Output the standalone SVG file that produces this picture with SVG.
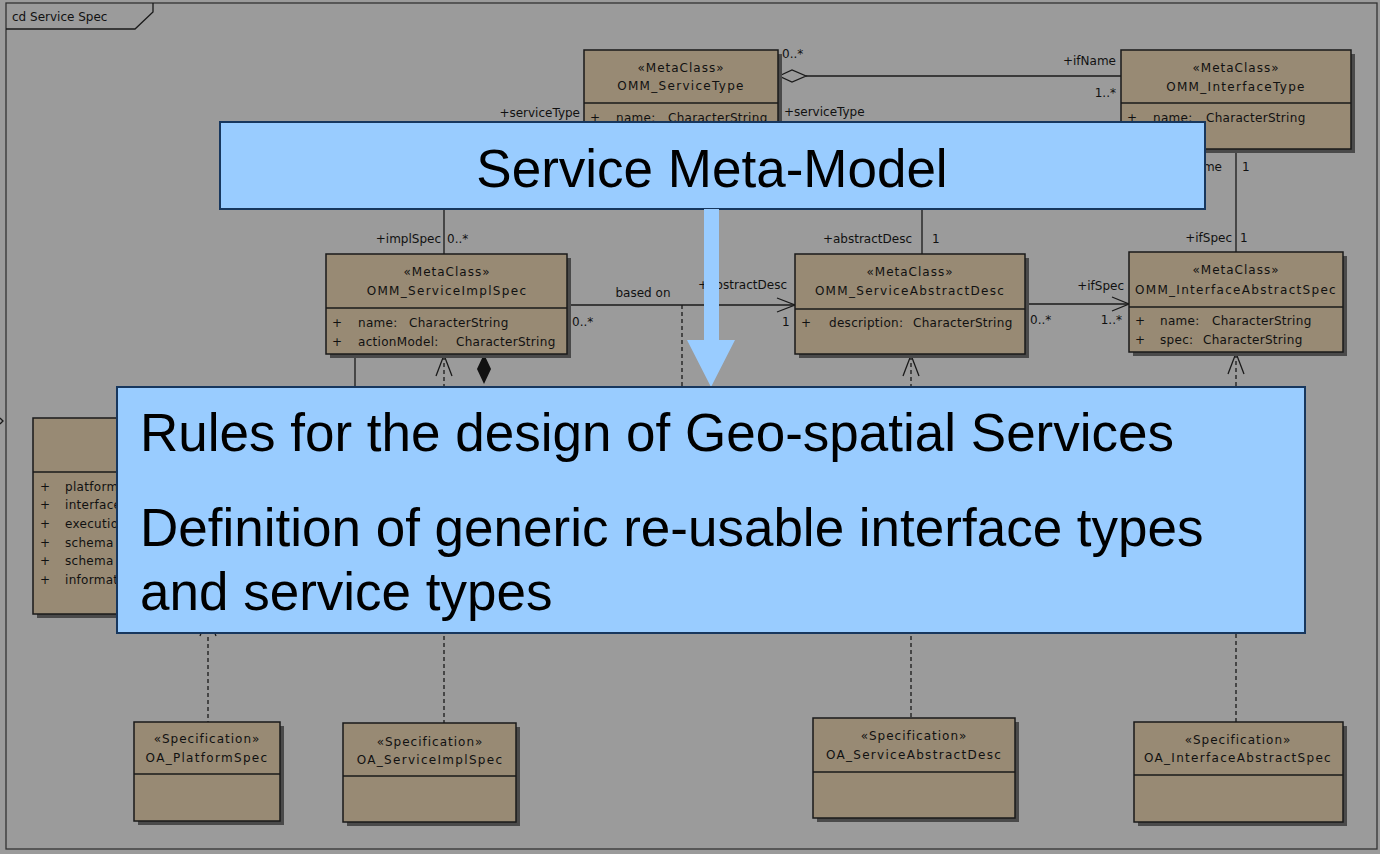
<svg xmlns="http://www.w3.org/2000/svg" width="1380" height="854" viewBox="0 0 1380 854">
<style>
.cls{fill:#988a74;stroke:#1a1a1a;stroke-width:1.5}
.sh{fill:#4a4a4a}
.sep{stroke:#1a1a1a;stroke-width:1.5}
.t{font-family:"DejaVu Sans",Verdana,sans-serif;font-size:12px;fill:#111}
.st{letter-spacing:1px;text-anchor:middle}
.nm{letter-spacing:1.3px;text-anchor:middle}
.at{letter-spacing:0.3px}
.r{text-anchor:end}
.ln{stroke:#1a1a1a;stroke-width:1.3;fill:none}
.dash{stroke-dasharray:4 3}
.co{fill:#99ccff;stroke:#17375e;stroke-width:2}
.big{font-family:"Liberation Sans",Arial,sans-serif;font-size:53px;fill:#000}
</style>
<rect x="0" y="0" width="1380" height="854" fill="#9b9b9b"/>
<g id="frame">
<rect x="6" y="3" width="1371" height="846" fill="none" stroke="#333" stroke-width="1.3"/>
<polyline points="6,29 135,29 153,12 153,3" class="ln"/>
<text x="12" y="21" class="t">cd Service Spec</text>
<polyline points="0,418 3,421 0,424" class="ln"/>
</g>
<g id="connectors">
<line x1="806" y1="76" x2="1121" y2="76" class="ln"/>
<polygon points="779,76 792,70 806,76 792,82" fill="#9b9b9b" stroke="#1a1a1a" stroke-width="1.3"/>
<text x="782" y="58" class="t">0..*</text>
<text x="1116" y="65" class="t r">+ifName</text>
<text x="1116" y="97" class="t r">1..*</text>
<polyline points="584,128 444,128 444,254" class="ln"/>
<text x="580" y="117" class="t r">+serviceType</text>
<text x="441" y="243" class="t r">+implSpec</text>
<text x="447" y="243" class="t">0..*</text>
<polyline points="778,128 922,128 922,254" class="ln"/>
<text x="784" y="116" class="t">+serviceType</text>
<text x="912" y="243" class="t r">+abstractDesc</text>
<text x="932" y="243" class="t">1</text>
<line x1="1236" y1="149" x2="1236" y2="252" class="ln"/>
<text x="1222" y="171" class="t r">+ifName</text>
<text x="1242" y="171" class="t">1</text>
<text x="1232" y="242" class="t r">+ifSpec</text>
<text x="1240" y="242" class="t">1</text>
<line x1="567" y1="305" x2="795" y2="305" class="ln"/>
<polyline points="777,298 795,305 777,312" class="ln"/>
<text x="643" y="297" class="t" text-anchor="middle">based on</text>
<text x="787" y="289" class="t r">+abstractDesc</text>
<text x="572" y="326" class="t">0..*</text>
<text x="782" y="326" class="t">1</text>
<line x1="682" y1="305" x2="682" y2="390" class="ln dash"/>
<line x1="1025" y1="304" x2="1129" y2="304" class="ln"/>
<polyline points="1112,297 1129,304 1112,311" class="ln"/>
<text x="1124" y="290" class="t r">+ifSpec</text>
<text x="1030" y="324" class="t">0..*</text>
<text x="1122" y="324" class="t r">1..*</text>
<line x1="355" y1="354" x2="355" y2="390" class="ln"/>
<polygon points="484,354 491,369 484,384 477,369" fill="#111"/>
<line x1="444" y1="356" x2="444" y2="723" class="ln dash"/>
<polyline points="436,376 444,355 452,376" class="ln"/>
<line x1="911" y1="356" x2="911" y2="718" class="ln dash"/>
<polyline points="903,376 911,355 919,376" class="ln"/>
<line x1="1236" y1="354" x2="1236" y2="722" class="ln dash"/>
<polyline points="1228,374 1236,353 1244,374" class="ln"/>
<line x1="208" y1="616" x2="208" y2="722" class="ln dash"/>
<polyline points="200,636 208,615 216,636" class="ln"/>
</g>
<g id="OMM_ServiceType">
<rect x="588" y="54" width="194" height="100" class="sh"/>
<rect x="584" y="50" width="194" height="100" class="cls"/>
<line x1="584" y1="103" x2="778" y2="103" class="sep"/>
<text x="681" y="72" class="t st">«MetaClass»</text>
<text x="681" y="90" class="t nm">OMM_ServiceType</text>
<text y="122" class="t at"><tspan x="590">+</tspan><tspan x="616">name:</tspan><tspan x="668">CharacterString</tspan></text>
</g>
<g id="OMM_InterfaceType">
<rect x="1125" y="54" width="230" height="99" class="sh"/>
<rect x="1121" y="50" width="230" height="99" class="cls"/>
<line x1="1121" y1="103" x2="1351" y2="103" class="sep"/>
<text x="1236" y="72" class="t st">«MetaClass»</text>
<text x="1236" y="91" class="t nm">OMM_InterfaceType</text>
<text y="122" class="t at"><tspan x="1127">+</tspan><tspan x="1153">name:</tspan><tspan x="1206">CharacterString</tspan></text>
</g>
<g id="OMM_ServiceImplSpec">
<rect x="330" y="258" width="241" height="100" class="sh"/>
<rect x="326" y="254" width="241" height="100" class="cls"/>
<line x1="326" y1="308" x2="567" y2="308" class="sep"/>
<text x="447" y="276" class="t st">«MetaClass»</text>
<text x="447" y="295" class="t nm">OMM_ServiceImplSpec</text>
<text y="327" class="t at"><tspan x="332">+</tspan><tspan x="358">name:</tspan><tspan x="409">CharacterString</tspan></text>
<text y="346" class="t at"><tspan x="332">+</tspan><tspan x="358">actionModel:</tspan><tspan x="456">CharacterString</tspan></text>
</g>
<g id="OMM_ServiceAbstractDesc">
<rect x="799" y="258" width="230" height="100" class="sh"/>
<rect x="795" y="254" width="230" height="100" class="cls"/>
<line x1="795" y1="309" x2="1025" y2="309" class="sep"/>
<text x="910" y="276" class="t st">«MetaClass»</text>
<text x="910" y="295" class="t nm">OMM_ServiceAbstractDesc</text>
<text y="327" class="t at"><tspan x="801">+</tspan><tspan x="829">description:</tspan><tspan x="913">CharacterString</tspan></text>
</g>
<g id="OMM_InterfaceAbstractSpec">
<rect x="1133" y="256" width="214" height="100" class="sh"/>
<rect x="1129" y="252" width="214" height="100" class="cls"/>
<line x1="1129" y1="307" x2="1343" y2="307" class="sep"/>
<text x="1236" y="274" class="t st">«MetaClass»</text>
<text x="1236" y="294" class="t nm">OMM_InterfaceAbstractSpec</text>
<text y="325" class="t at"><tspan x="1135">+</tspan><tspan x="1160">name:</tspan><tspan x="1212">CharacterString</tspan></text>
<text y="344" class="t at"><tspan x="1135">+</tspan><tspan x="1160">spec:</tspan><tspan x="1203">CharacterString</tspan></text>
</g>
<g id="PlatformClass">
<rect x="37" y="422" width="264" height="196" class="sh"/>
<rect x="33" y="418" width="264" height="196" class="cls"/>
<line x1="33" y1="472" x2="297" y2="472" class="sep"/>
<text class="t at"><tspan x="40" y="491">+</tspan><tspan x="65" y="491">platform</tspan></text>
<text class="t at"><tspan x="40" y="509">+</tspan><tspan x="65" y="509">interface</tspan></text>
<text class="t at"><tspan x="40" y="528">+</tspan><tspan x="65" y="528">execution</tspan></text>
<text class="t at"><tspan x="40" y="547">+</tspan><tspan x="65" y="547">schema</tspan></text>
<text class="t at"><tspan x="40" y="565">+</tspan><tspan x="65" y="565">schema</tspan></text>
<text class="t at"><tspan x="40" y="584">+</tspan><tspan x="65" y="584">information</tspan></text>
</g>
<g id="OA_PlatformSpec">
<rect x="138" y="726" width="146" height="99" class="sh"/>
<rect x="134" y="722" width="146" height="99" class="cls"/>
<line x1="134" y1="774" x2="280" y2="774" class="sep"/>
<text x="207" y="743" class="t st">«Specification»</text>
<text x="207" y="762" class="t nm">OA_PlatformSpec</text>
</g>
<g id="OA_ServiceImplSpec">
<rect x="347" y="727" width="173" height="99" class="sh"/>
<rect x="343" y="723" width="173" height="99" class="cls"/>
<line x1="343" y1="776" x2="516" y2="776" class="sep"/>
<text x="430" y="746" class="t st">«Specification»</text>
<text x="430" y="764" class="t nm">OA_ServiceImplSpec</text>
</g>
<g id="OA_ServiceAbstractDesc">
<rect x="817" y="722" width="202" height="100" class="sh"/>
<rect x="813" y="718" width="202" height="100" class="cls"/>
<line x1="813" y1="772" x2="1015" y2="772" class="sep"/>
<text x="914" y="740" class="t st">«Specification»</text>
<text x="914" y="759" class="t nm">OA_ServiceAbstractDesc</text>
</g>
<g id="OA_InterfaceAbstractSpec">
<rect x="1138" y="726" width="209" height="100" class="sh"/>
<rect x="1134" y="722" width="209" height="100" class="cls"/>
<line x1="1134" y1="775" x2="1343" y2="775" class="sep"/>
<text x="1238" y="744" class="t st">«Specification»</text>
<text x="1238" y="762" class="t nm">OA_InterfaceAbstractSpec</text>
</g>
<g id="callout_title">
<rect x="220" y="122" width="985" height="87" class="co"/>
<text x="712" y="187" class="big" text-anchor="middle">Service Meta-Model</text>
</g>
<g id="callout_arrow">
<polygon points="704,209 719,209 719,340 735,340 711,387 687,340 704,340" fill="#99ccff"/>
</g>
<g id="callout_rules">
<rect x="117" y="387" width="1188" height="246" class="co"/>
<text x="140" y="451" class="big">Rules for the design of Geo-spatial Services</text>
<text x="140" y="546" class="big">Definition of generic re-usable interface types</text>
<text x="140" y="610" class="big">and service types</text>
</g>
</svg>
